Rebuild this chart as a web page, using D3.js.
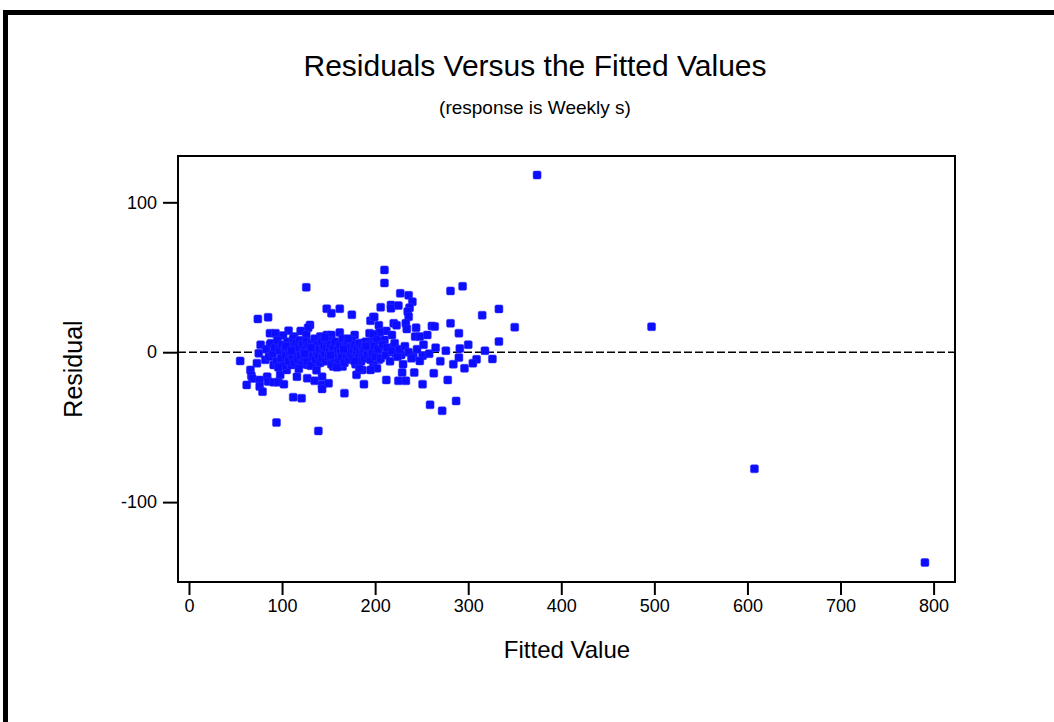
<!doctype html>
<html lang="en">

<head>
    <meta charset="UTF-8" />
    <script src="https://d3js.org/d3.v7.min.js"></script>
    <title>Residuals Versus the Fitted Values</title>
    <style>
        body { margin: 0; background: #fff; }
    </style>
</head>

<body>
    <div id="chart"></div>
    <script type="module">
        // Chart text
        const titleText = "Residuals Versus the Fitted Values"
        const subtitleText = "(response is Weekly s)"
        const xLabel = "Fitted Value"
        const yLabel = "Residual"

        // Tick labels
        const xTicks = [0, 100, 200, 300, 400, 500, 600, 700, 800]
        const yTicks = [-100, 0, 100]

        // Fitted values (x) and residuals (y)
        const fitted = [
            374, 497, 607.5, 790.7,
            126, 74, 85, 148, 153, 162, 175, 195, 198, 130, 128, 87, 93, 107, 120, 101, 113, 126, 141, 148, 153, 162, 178, 194, 77, 87, 186, 196,
            210, 210, 227, 236, 240, 281, 294, 206, 217, 217, 225, 237, 235, 236, 199, 333, 315, 281, 204, 220, 223, 233, 234, 244, 261, 264, 350, 290, 212, 205, 198, 218, 243, 248, 256, 333, 210, 202, 220, 291, 209,
            290, 309, 305, 326, 296, 241, 251, 248, 228, 222, 214, 202, 204, 198, 202, 229, 242, 263, 212, 225, 233, 251, 278, 259, 287, 272,
            55, 73, 66, 67, 68, 62, 76, 76, 79, 84, 85, 91, 96, 102, 98, 105, 116, 127, 135, 143, 143, 143, 150, 112, 121, 167, 188, 180, 186, 195, 165, 155, 94, 139, 75, 82, 91, 110, 128, 139,
            83, 86, 88, 90, 92, 94, 95, 97, 99, 100, 101, 103, 104, 106, 107, 108, 109, 111, 112, 113, 114, 115, 116, 117, 118, 119, 120, 121, 122, 123,
            124, 125, 126, 127, 128, 129, 130, 131, 132, 133, 134, 135, 136, 137, 138, 139, 140, 141, 142, 143, 144, 145, 146, 147, 148, 149, 150, 151, 152, 153,
            154, 155, 156, 157, 158, 160, 161, 162, 163, 164, 165, 166, 167, 168, 169, 170, 171, 172, 173, 174, 175, 176, 177, 178, 179, 180, 181, 182, 183, 184,
            185, 186, 187, 188, 189, 190, 191, 192, 193, 194, 195, 196, 197, 199, 200, 203, 206, 208, 211, 213, 216, 218, 221, 224, 226, 230, 232, 236, 239, 245,
            252, 258, 265, 270, 276, 284, 300, 318,
            96, 104, 118, 131, 137, 146, 159, 171, 183, 110, 124, 152, 166, 178, 190
        ]
        const residuals = [
            118.2, 17, -77.8, -140.3,
            43.3, 22.2, 23.3, 29, 26, 29, 25, 21, 23.5, 18.2, 16.4, 12.7, 12.7, 14.4, 14.2, 11.1, 10.4, 11.5, 10.4, 11.5, 11.5, 13.1, 11.5, 12.7, 4.9, 4.9, 6, 7.1,
            54.9, 46.2, 39.3, 38, 33.7, 40.9, 44, 30, 31.5, 29.3, 31.1, 29.7, 27.1, 23.7, 23.5, 28.9, 24.7, 19.3, 18, 19.3, 18, 19.3, 15.5, 16.4, 17.5, 17.1, 16.7, 12.7, 14.2, 13.3, 12, 11.5, 10.4, 10.4, 11.5, 7.1, 8.2, 8.2, 3.7, 2.5, 3.7,
            -3.6, -4.7, -7.3, -4.5, -10.7, -2.9, -2.3, -5.8, -1.8, -0.7, 0, -0.7, -5.1, -8.5, -10.7, -13.6, -13.6, -14, -18.5, -19.1, -19.1, -21.3, -18.5, -35.1, -32.5, -39.1,
            -5.8, -7.3, -11.8, -15.6, -17.5, -21.8, -18.5, -22.9, -26.3, -16.3, -19.6, -20, -20, -21.3, -15.1, -11.8, -16.3, -17.3, -19.1, -16.3, -21.8, -24.5, -20.7, -30, -30.7, -27.3, -21.3, -15.1, -11.8, -11.8, -9.6, -9.6, -46.9, -52.5, -0.7, -5.1, -8.5, -8.5, -8.5, -7.3,
            2, -3, 6, -1, 3, -6, 8, 1, -4, 5, -9, 2, -2, 7, -6, 0, 4, -3, 9, -7, 1, 6, -1, -5, 3, 8, -2, -8, 5, 0,
            -4, 2, 7, -6, 4, -1, 1, -9, 6, -3, 3, 9, -5, 0, 5, -2, 2, -7, 7, -4, 1, 4, -1, -6, 3, 8, -3, 1, 5, -8,
            0, 3, -4, 7, -1, 2, -6, 5, 0, -3, 9, 2, -7, 4, -2, 6, 1, -5, 3, -1, 8, -4, 2, 5, -8, 0, 3, -3, 6, 1,
            -6, 4, -1, 2, -4, 7, 0, -2, 3, 5, -5, 1, -1, 4, -3, 2, -4, 5, -2, 3, -6, 1, 6, -3, 2, -8, 4, 0, -4, 2,
            5, -1, 3, -6, 1, -8, 5, 1,
            -10, 4, -11, 3, -12, 10, -10, 9, -11, 1, -1, -2, 2, -6, 4
        ]

        const points = fitted.map((f, i) => ({ fit: f, res: residuals[i] }))

        const W = 1054
        const H = 722
        const plot = { left: 178, right: 955, top: 156, bottom: 582 }

        const x = d3.scaleLinear().domain([-11.8, 823]).range([plot.left, plot.right])
        const y = d3.scaleLinear().domain([130.9, -153.3]).range([plot.top, plot.bottom])

        const font = "'Liberation Sans', Arial, sans-serif"

        const svg = d3.select("#chart")
            .append("svg")
            .attr("width", W)
            .attr("height", H)
            .style("font-family", font)

        // Outer frame (runs off the right and bottom edges)
        svg.append("rect")
            .attr("x", 5.5)
            .attr("y", 12.5)
            .attr("width", W + 20)
            .attr("height", H + 20)
            .attr("fill", "none")
            .attr("stroke", "#000")
            .attr("stroke-width", 5)

        // Titles
        svg.append("text")
            .attr("x", 535)
            .attr("y", 76)
            .attr("text-anchor", "middle")
            .attr("font-size", "30px")
            .text(titleText)

        svg.append("text")
            .attr("x", 535)
            .attr("y", 114)
            .attr("text-anchor", "middle")
            .attr("font-size", "19px")
            .text(subtitleText)

        // Zero reference line
        svg.append("line")
            .attr("x1", plot.left)
            .attr("x2", plot.right)
            .attr("y1", y(0))
            .attr("y2", y(0))
            .attr("stroke", "#000")
            .attr("stroke-width", 1.5)
            .attr("stroke-dasharray", "8,3")

        // Points
        svg.append("g")
            .selectAll("rect")
            .data(points)
            .enter()
            .append("rect")
            .attr("x", d => x(d.fit) - 4)
            .attr("y", d => y(d.res) - 4)
            .attr("width", 8)
            .attr("height", 8)
            .attr("rx", 1.5)
            .attr("fill", "#0d0dff")
            .attr("stroke", "#3333ff")
            .attr("stroke-width", 0.5)

        // Plot frame
        svg.append("rect")
            .attr("x", plot.left)
            .attr("y", plot.top)
            .attr("width", plot.right - plot.left)
            .attr("height", plot.bottom - plot.top)
            .attr("fill", "none")
            .attr("stroke", "#000")
            .attr("stroke-width", 2)

        // Axes
        const xAxis = svg.append("g")
            .attr("transform", `translate(0, ${plot.bottom})`)
            .call(d3.axisBottom(x).tickValues(xTicks).tickSize(13).tickPadding(4).tickFormat(d => String(d)))
        xAxis.select(".domain").remove()
        xAxis.selectAll("line").attr("stroke-width", 2)
        xAxis.selectAll("text").attr("font-size", "18px").attr("font-family", font).attr("fill", "#000")

        const yAxis = svg.append("g")
            .attr("transform", `translate(${plot.left}, 0)`)
            .call(d3.axisLeft(y).tickValues(yTicks).tickSize(15).tickPadding(6).tickFormat(d => String(d)))
        yAxis.select(".domain").remove()
        yAxis.selectAll("line").attr("stroke-width", 2)
        yAxis.selectAll("text").attr("font-size", "18px").attr("font-family", font).attr("fill", "#000")

        // Axis labels
        svg.append("text")
            .attr("x", 567)
            .attr("y", 658)
            .attr("text-anchor", "middle")
            .attr("font-size", "24px")
            .text(xLabel)

        svg.append("text")
            .attr("transform", `translate(82, 369) rotate(-90)`)
            .attr("text-anchor", "middle")
            .attr("font-size", "25px")
            .text(yLabel)
    </script>
</body>

</html>
